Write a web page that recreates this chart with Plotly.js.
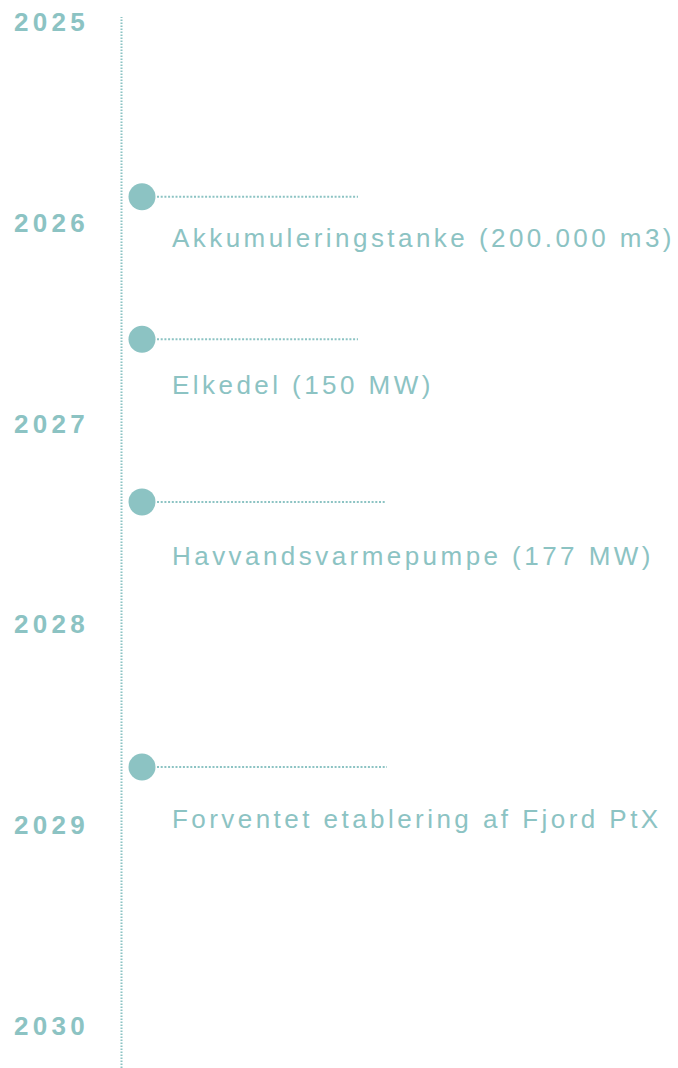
<!DOCTYPE html>
<html>
<head>
<meta charset="utf-8">
<script src="https://cdn.plot.ly/plotly-3.0.1.min.js"></script>
<style>
  html, body { margin: 0; padding: 0; background: #ffffff; }
  #chart { width: 678px; height: 1068px; }
  .annotation-text { letter-spacing: 3.45px; }
  .annotation-text tspan[style*="bold"] { letter-spacing: 4.3px; }
</style>
</head>
<body>
<div id="chart"></div>
<script>
// ---- data ----
const years = [2025, 2026, 2027, 2028, 2029, 2030];
const yearLabels = ["2025", "2026", "2027", "2028", "2029", "2030"];
const events = [
  "Akkumuleringstanke (200.000 m3)",
  "Elkedel (150 MW)",
  "Havvandsvarmepumpe (177 MW)",
  "Forventet etablering af Fjord PtX"
];
const eventDates = [2025.87, 2026.58, 2027.39, 2028.71];

// ---- style / layout constants ----
const teal = "#8cc3c3";
const markerX = 142;
const lineX = 121.5;
const labelX = 170;
const connectorStart = 157;
const connectorEnds = [358, 358, 386, 387];
const labelShifts = [-41, -46, -54, -52];

const trace = {
  type: "scatter",
  mode: "markers",
  x: eventDates.map(() => markerX),
  y: eventDates,
  marker: { size: 27, color: teal },
  hoverinfo: "skip",
  showlegend: false
};

const shapes = [{
  type: "line", xref: "x", yref: "paper",
  x0: lineX, x1: lineX, y0: 0, y1: 1 - 17 / 1068,
  line: { color: teal, width: 2, dash: "1.5px,1.5px" },
  layer: "below"
}];
eventDates.forEach((d, i) => {
  shapes.push({
    type: "line", xref: "x", yref: "y",
    x0: connectorStart, x1: connectorEnds[i], y0: d, y1: d,
    line: { color: teal, width: 2, dash: "2px,1.7px" },
    layer: "below"
  });
});

const annotations = [];
years.forEach((yr, i) => {
  annotations.push({
    xref: "paper", yref: "y", x: 12 / 678, y: yr,
    xanchor: "left", yanchor: "middle", align: "left",
    text: "<b>" + yearLabels[i] + "</b>", showarrow: false,
    font: { family: "Liberation Sans, Arial, sans-serif", size: 26, color: teal }
  });
});
events.forEach((ev, i) => {
  annotations.push({
    xref: "x", yref: "y", x: labelX, y: eventDates[i], yshift: labelShifts[i],
    xanchor: "left", yanchor: "middle", align: "left",
    text: ev, showarrow: false,
    font: { family: "Liberation Sans, Arial, sans-serif", size: 26, color: teal }
  });
});

const layout = {
  width: 678, height: 1068,
  margin: { l: 0, r: 0, t: 0, b: 0 },
  paper_bgcolor: "#ffffff", plot_bgcolor: "#ffffff",
  xaxis: { range: [0, 678], visible: false, fixedrange: true },
  yaxis: { range: [2025 + 1046 / 200.8, 2025 - 22 / 200.8], visible: false, fixedrange: true },
  shapes: shapes,
  annotations: annotations,
  showlegend: false
};

Plotly.newPlot("chart", [trace], layout, { displayModeBar: false, staticPlot: true });
</script>
</body>
</html>
